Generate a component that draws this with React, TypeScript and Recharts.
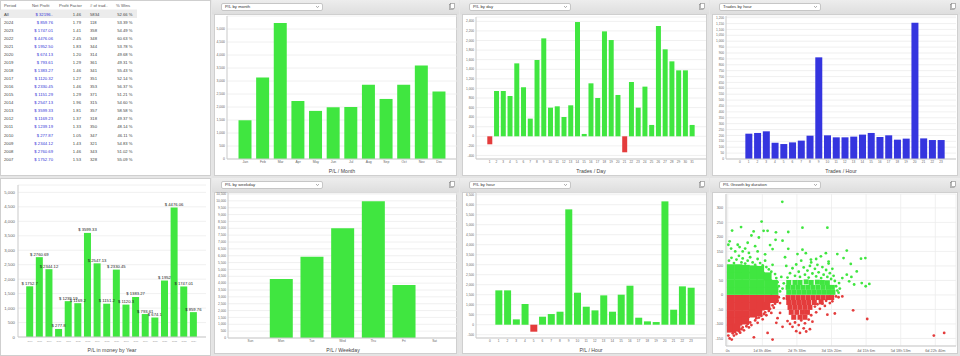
import React from 'react'
import { BarChart, Bar, XAxis, YAxis, CartesianGrid, Cell, LabelList, ScatterChart, Scatter } from 'recharts'

const GREEN = '#40e640'
const RED = '#e43c3c'
const BLUE = '#3535df'
const GRID = '#ececec'
const AXIS = '#c9c9c9'
const TICK = '#666'
const FONT = "'Liberation Sans', Arial, sans-serif"

// summary table
const periods = ['All', '2024', '2023', '2022', '2021', '2020', '2019', '2018', '2017', '2016', '2015', '2014', '2013', '2012', '2011', '2010', '2009', '2008', '2007']
const netProfit = ['$ 32196..', '$ 859.76', '$ 1747.01', '$ 4476.06', '$ 1952.50', '$ 674.13', '$ 793.61', '$ 1383.27', '$ 1120.32', '$ 2330.45', '$ 1151.29', '$ 2547.13', '$ 3599.33', '$ 1169.23', '$ 1239.19', '$ 277.87', '$ 2344.12', '$ 2760.69', '$ 1752.70']
const profitFactor = ['1.46', '1.79', '1.41', '2.45', '1.83', '1.20', '1.29', '1.46', '1.27', '1.46', '1.29', '1.96', '1.81', '1.37', '1.33', '1.05', '1.43', '1.46', '1.53']
const tradeCount = ['5834', '118', '358', '348', '344', '314', '361', '341', '351', '353', '371', '315', '357', '318', '350', '347', '321', '343', '328']
const winRate = ['52.66 %', '53.39 %', '54.49 %', '60.63 %', '53.78 %', '49.68 %', '49.31 %', '55.43 %', '52.14 %', '56.37 %', '51.21 %', '54.60 %', '58.58 %', '49.37 %', '48.14 %', '46.11 %', '54.83 %', '51.02 %', '55.09 %']

// P/L by month
const months = ['Jan', 'Feb', 'Mar', 'Apr', 'May', 'Jun', 'Jul', 'Aug', 'Sep', 'Oct', 'Nov', 'Dec']
const monthPL = [1490, 3130, 5230, 2230, 1850, 1990, 2000, 2860, 2310, 2860, 3600, 2600]
const monthTicks = [0, 500, 1000, 1500, 2000, 2500, 3000, 3500, 4000, 4500, 5000]

// P/L by day of month
const days = ['1', '2', '3', '4', '5', '6', '7', '8', '9', '10', '11', '12', '13', '14', '15', '16', '17', '18', '19', '20', '21', '22', '23', '24', '25', '26', '27', '28', '29', '30', '31']
const dayPL = [-167, 946, 946, 842, 1523, 1023, 369, 1593, 2045, 598, 626, 403, 647, 2386, 49, 1106, 800, 2191, 2010, 863, -334, 1134, 598, 1037, 237, 2303, 1816, 1565, 1377, 1377, 237]
const dayTicks = [-400, -200, 0, 200, 400, 600, 800, 1000, 1200, 1400, 1600, 1800, 2000, 2200, 2400]

// trades and P/L by hour
const hours = ['0', '1', '2', '3', '4', '5', '6', '7', '8', '9', '10', '11', '12', '13', '14', '15', '16', '17', '18', '19', '20', '21', '22', '23']
const hourTrades = [0, 215, 221, 235, 139, 127, 141, 156, 198, 863, 201, 184, 184, 190, 207, 221, 187, 201, 164, 173, 1157, 175, 161, 161]
const tradeTicks = [0, 50, 100, 150, 200, 250, 300, 350, 400, 450, 500, 550, 600, 650, 700, 750, 800, 850, 900, 950, 1000, 1050, 1100, 1150, 1200]
const hourPL = [0, 1717, 1717, 267, 1033, -350, 400, 533, 650, 5767, 1600, 900, 717, 1467, 650, 1500, 1950, 350, 167, 133, 6167, 750, 1917, 1850]
const hourTicks = [-500, 0, 500, 1000, 1500, 2000, 2500, 3000, 3500, 4000, 4500, 5000, 5500, 6000, 6500]

// P/L by weekday
const weekdays = ['Sun', 'Mon', 'Tue', 'Wed', 'Thu', 'Fri', 'Sat']
const weekdayPL = [0, 4300, 5930, 8000, 9970, 3870, 0]
const weekdayTicks = [0, 500, 1000, 1500, 2000, 2500, 3000, 3500, 4000, 4500, 5000, 5500, 6000, 6500, 7000, 7500, 8000, 8500, 9000, 9500, 10000, 10500]

// P/L by year
const years = ['2007', '2008', '2009', '2010', '2011', '2012', '2013', '2014', '2015', '2016', '2017', '2018', '2019', '2020', '2021', '2022', '2023', '2024']
const yearPL = [1752.70, 2760.69, 2344.12, 277.87, 1239.19, 1169.23, 3599.33, 2547.13, 1151.29, 2330.45, 1120.32, 1383.27, 793.61, 674.13, 1952.50, 4476.06, 1747.01, 859.76]
const yearLabels = ['$ 1752.7', '$ 2760.69', '$ 2344.12', '$ 277.8', '$ 1239.19', '$ 1169.2', '$ 3599.33', '$ 2547.13', '$ 1151.2', '$ 2330.45', '$ 1120.3', '$ 1383.27', '$ 793.61', '$ 674.1', '$ 1952', '$ 4476.06', '$ 1747.01', '$ 859.76']
const yearTicks = [0, 500, 1000, 1500, 2000, 2500, 3000, 3500, 4000, 4500, 5000]

// P/L growth by trade duration: [hours, P/L]
const durTicksSec = [0, 100000, 200000, 300000, 400000, 500000, 600000]
const durLabels = ['0s', '1d 3h 46m', '2d 7h 33m', '3d 11h 20m', '4d 15h 6m', '5d 18h 53m', '6d 22h 40m']
const growthTicks = [-150, -100, -50, 0, 50, 100, 150, 200, 250, 300]

const winCore = [
  [2.5, 14], [8.5, 14], [14.5, 14], [20.5, 14], [26.5, 14], [32.5, 14], [37.5, 14],
  [2.5, 40], [8.5, 40], [14.5, 40], [20.5, 40], [26.5, 40], [32.5, 40], [37, 38],
  [2.5, 66], [8.5, 66], [14.5, 66], [20.5, 66], [26.5, 66], [32, 64],
  [2.5, 92], [8.5, 92], [14.5, 90], [20.5, 88], [26, 86],
]
const winMid = [
  [49, 9], [53, 9], [57, 9], [61, 9], [65, 9], [69, 9], [73, 9], [77, 9], [81, 9], [84.5, 9],
  [48.5, 26], [52.5, 26], [56.5, 26], [60.5, 26], [64.5, 26], [68.5, 26], [72.5, 26], [76.5, 26], [80.5, 26], [84, 26],
  [49, 43], [54, 43], [58, 43], [63, 45], [67, 43], [72, 44], [76, 43], [80, 42],
]
const winDots = [
  [1, 118], [3, 128], [5, 110], [7, 122], [9, 135], [11, 112], [12, 126], [14, 108], [16, 118], [18, 130], [20, 112], [22, 104],
  [24, 124], [26, 110], [28, 102], [30, 118], [31, 96], [33, 88], [35, 80], [36, 104], [38, 72], [39, 58], [40, 44], [41, 30],
  [42, 12], [43, 62], [44, 22], [45, 40],
  [0.5, 173], [1.5, 185], [2.7, 160], [3.5, 222], [6, 150], [8, 173], [9.5, 165], [10.7, 234], [12, 150], [14, 160], [16, 180],
  [17, 145], [19, 205], [20.8, 219], [22, 168], [24, 150], [25, 198], [27.2, 253], [28.8, 221], [30, 140], [32, 221], [34, 172],
  [36, 158], [38.7, 216], [38.4, 190], [43.8, 321], [44, 187], [48.6, 217], [48.6, 159], [46, 130], [47, 100],
  [48, 60], [50, 75], [52, 92], [54, 66], [55, 105], [57, 80], [58, 62], [59, 118], [61, 95], [62, 70], [64, 84], [65, 60],
  [66, 100], [67, 112], [68, 74], [70, 90], [71, 64], [72, 104], [73, 78], [75, 58], [76, 96], [77, 70], [79, 86], [80, 62],
  [81, 108], [82, 75], [83, 55], [84, 90], [85, 66], [86, 48], [87, 30], [88, 15], [89, 8], [90, 22],
  [56, 141], [60, 156], [60, 232], [62.7, 144], [66.8, 122], [71, 124], [74.8, 133], [78.8, 144], [80, 232], [81, 115],
  [88, 141], [95.6, 153], [93, 127], [98.8, 107], [107, 125], [110.5, 127], [103.6, 81], [113.7, 38], [110.8, 30],
  [107.6, 41], [101.5, 36], [97.5, 47], [95.6, 70], [92, 58], [89.4, 41], [99.3, 62],
]
const lossCore = [
  [2.5, -14], [8.5, -14], [14.5, -14], [20.5, -14], [26.5, -14], [32.5, -14], [37.5, -14],
  [2.5, -40], [8.5, -40], [14.5, -40], [20.5, -40], [26.5, -40], [31, -38],
  [2.5, -66], [8.5, -66], [14.5, -66], [20.5, -64], [24.5, -60],
  [2.5, -92], [8.5, -92], [14, -88],
  [2.5, -116], [7, -112],
]
const lossMid = [
  [48.5, -9], [52.5, -9], [56.5, -9], [60.5, -9], [64.5, -9], [68.5, -9], [72.5, -9], [76.5, -9], [80.5, -9], [83.5, -9],
  [49, -26], [53, -26], [57, -26], [61, -26], [65, -26], [69.5, -26], [75, -24],
  [50, -43], [54, -43], [58, -43], [62, -43], [66, -43],
  [51, -60], [55.5, -60], [60, -60], [64, -60],
  [53, -77], [58, -77], [62, -77],
]
const lossDots = [
  [0.5, -140], [1.5, -150], [3.2, -154], [4, -132], [5, -140], [6, -128], [7, -135], [9, -125], [10, -130], [11, -118],
  [12, -112], [13, -122], [15, -108], [16, -100], [17, -112], [18, -95], [19, -104], [21, -146], [22, -88], [23, -80],
  [24, -96], [25, -78], [27, -72], [28, -84], [29, -66], [30, -60], [31, -70], [32, -131], [33, -55], [34, -48], [35, -62],
  [36, -154], [36, -36], [37, -44], [38, -30], [39, -96], [40, -20], [40, -80], [41, -8], [42, -62], [44, -110], [42, -28], [45, -12],
  [48, -90], [50, -100], [52, -110], [54, -95], [55, -125], [57, -104], [58, -131], [59, -88], [61, -115], [62, -98],
  [63, -126], [65, -85], [66, -118], [67, -70], [68, -92], [70, -40], [71, -60], [72, -32], [74, -48], [76, -30], [78, -38],
  [79, -20], [80, -68], [82, -28], [84, -22], [86, -64], [87, -5], [89, -8], [92, -5], [100.7, -53], [112, -83],
  [165.5, -140], [173.8, -131],
]

const fmt = (v: number) => v.toLocaleString('en-US')
const pts = (arr: number[][]) => arr.map(([x, y]) => ({ x, y }))

function Panel({ x, y, w, h, title }: { x: number; y: number; w: number; h: number; title: string }) {
  return (
    <div style={{ position: 'absolute', left: x, top: y, width: w, height: h, background: 'linear-gradient(#ededed, #dedede 14px, #e4e4e4 15px)' }}>
      <div style={{ position: 'absolute', left: 9, top: 3, width: 97, height: 6, background: '#fff', border: '1px solid #c6c6c6', borderRadius: 2, fontSize: 4.3, lineHeight: '6px', color: '#333', paddingLeft: 3, boxSizing: 'content-box' }}>
        {title}
        <svg style={{ position: 'absolute', right: 3, top: 2 }} width={3} height={2}>
          <polyline points="0,0 1.5,1.6 3,0" fill="none" stroke="#777" strokeWidth={0.6} />
        </svg>
      </div>
      <svg style={{ position: 'absolute', right: 4, top: 3 }} width={6} height={7}>
        <rect x={0.5} y={1.5} width={4} height={5} fill="#fff" stroke="#888" strokeWidth={0.6} />
        <rect x={1.5} y={0.5} width={4} height={5} fill="#fff" stroke="#888" strokeWidth={0.6} />
      </svg>
      <div style={{ position: 'absolute', left: 2, top: 14, right: 2, bottom: 2, background: '#fff', border: '1px solid #cfcfcf', boxSizing: 'border-box' }} />
    </div>
  )
}

function AxisTitle({ x, y, text }: { x: number; y: number; text: string }) {
  return (
    <div style={{ position: 'absolute', left: x, top: y, transform: 'translate(-50%, -50%)', fontSize: 5.2, color: '#444', whiteSpace: 'nowrap' }}>{text}</div>
  )
}

type BarBoxProps = {
  left: number; top: number; width: number; height: number; yWidth: number
  margin: { top: number; right: number; bottom: number; left: number }
  cats: string[]; values: number[]; domain: [number, number]; ticks: number[]
  barSize: number; pad: [number, number]; xHeight: number; color: string; fs: number
}

function BarBox(p: BarBoxProps) {
  const data = p.cats.map((c, i) => ({ c, v: p.values[i] }))
  return (
    <div style={{ position: 'absolute', left: p.left, top: p.top }}>
      <BarChart width={p.width} height={p.height} data={data} margin={p.margin}>
        <CartesianGrid vertical={false} stroke={GRID} strokeWidth={0.8} />
        <XAxis dataKey="c" interval={0} tickLine={false} tickSize={1} tickMargin={1} height={p.xHeight}
          axisLine={{ stroke: AXIS }} padding={{ left: p.pad[0], right: p.pad[1] }}
          tick={{ fontSize: p.fs, fill: TICK, fontFamily: FONT }} />
        <YAxis width={p.yWidth} domain={p.domain} ticks={p.ticks} interval={0} allowDataOverflow
          tickLine={false} tickSize={1} tickMargin={1} axisLine={{ stroke: AXIS }} tickFormatter={fmt}
          tick={{ fontSize: p.fs, fill: TICK, fontFamily: FONT }} />
        <Bar dataKey="v" barSize={p.barSize} isAnimationActive={false}>
          {data.map((d, i) => <Cell key={i} fill={d.v < 0 ? RED : p.color} />)}
        </Bar>
      </BarChart>
    </div>
  )
}

const square = (s: number, color: string) => (props: any) =>
  <rect x={props.cx - s / 2} y={props.cy - s / 2} width={s} height={s} fill={color} />
const dot = (color: string) => (props: any) => <circle cx={props.cx} cy={props.cy} r={1.4} fill={color} />

function SummaryTable() {
  const rowY = (i: number) => 14 + 8.07 * i
  return (
    <div style={{ position: 'absolute', left: 0, top: 0, width: 211, height: 176, background: '#fff', border: '1px solid #cfcfcf', boxSizing: 'border-box' }}>
      <svg width={211} height={176} style={{ position: 'absolute', left: -1, top: -1, fontFamily: FONT }}>
        <line x1={0} x2={137} y1={10} y2={10} stroke="#ddd" strokeWidth={0.6} />
        <rect x={0} y={10} width={137} height={8} fill="#ececec" />
        {['Period', 'Net Profit', 'Profit Factor', '# of trad..', '% Wins'].map((t, i) => (
          <text key={t} x={[4, 32, 59, 90, 116][i]} y={5.8} fontSize={4.2} fill="#555" dominantBaseline="central">{t}</text>
        ))}
        {periods.map((p, i) => (
          <g key={p} fontSize={4.2} fill="#444">
            <text x={4} y={rowY(i)} dominantBaseline="central">{p}</text>
            <text x={53} y={rowY(i)} textAnchor="end" fill="#3333d6" dominantBaseline="central">{netProfit[i]}</text>
            <text x={81} y={rowY(i)} textAnchor="end" dominantBaseline="central">{profitFactor[i]}</text>
            <text x={90} y={rowY(i)} dominantBaseline="central">{tradeCount[i]}</text>
            <text x={132.5} y={rowY(i)} textAnchor="end" dominantBaseline="central">{winRate[i]}</text>
          </g>
        ))}
      </svg>
    </div>
  )
}

const yearLabel = (props: any) => {
  const { x, y, width, value } = props
  return (
    <text x={Number(x) + Number(width) / 2} y={Number(y) - 3} textAnchor="middle" dominantBaseline="central"
      fontSize={4.2} fill="#222" fontFamily={FONT}>{value}</text>
  )
}

function YearChart() {
  const data = years.map((c, i) => ({ c, v: yearPL[i], label: yearLabels[i] }))
  return (
    <div style={{ position: 'absolute', left: 0, top: 178, width: 211, height: 178, background: '#fff', border: '1px solid #cfcfcf', boxSizing: 'border-box' }}>
      <div style={{ position: 'absolute', left: -1, top: -1 }}>
        <BarChart width={211} height={178} data={data} margin={{ top: 7, right: 5, bottom: 0, left: 0 }}>
          <CartesianGrid vertical={false} stroke={GRID} strokeWidth={0.8} />
          <XAxis dataKey="c" interval={0} tickLine={false} tickSize={1} tickMargin={2} height={19}
            axisLine={{ stroke: AXIS }} padding={{ left: 7.2, right: 7.5 }}
            tick={{ fontSize: 2.2, fill: '#999', fontFamily: FONT }} />
          <YAxis width={18} domain={[0, 5256]} ticks={yearTicks} interval={0} allowDataOverflow
            tickLine={false} tickSize={1} tickMargin={2} axisLine={{ stroke: AXIS }} tickFormatter={fmt}
            tick={{ fontSize: 4.3, fill: TICK, fontFamily: FONT }} />
          <Bar dataKey="v" barSize={7} fill={GREEN} isAnimationActive={false}>
            <LabelList dataKey="label" content={yearLabel} />
          </Bar>
        </BarChart>
      </div>
    </div>
  )
}

function GrowthChart() {
  const ticks = durTicksSec.map((s) => s / 3600)
  const label = (v: number) => durLabels[ticks.findIndex((t) => Math.abs(t - v) < 0.01)] ?? ''
  return (
    <div style={{ position: 'absolute', left: 710, top: 192 }}>
      <ScatterChart width={250} height={164} margin={{ top: 2, right: 4, bottom: 0, left: 0 }}>
        <CartesianGrid stroke={GRID} strokeWidth={0.8} />
        <XAxis type="number" dataKey="x" domain={[-1.4, 183.3]} ticks={ticks} interval={0} allowDataOverflow
          tickFormatter={label} tickLine={false} tickSize={1} tickMargin={2} height={10}
          axisLine={{ stroke: AXIS }} tick={{ fontSize: 3.8, fill: TICK, fontFamily: FONT }} />
        <YAxis type="number" dataKey="y" domain={[-176, 348]} ticks={growthTicks} interval={0} allowDataOverflow
          width={16} tickLine={false} tickSize={1} tickMargin={2} axisLine={{ stroke: AXIS }}
          tick={{ fontSize: 3.8, fill: TICK, fontFamily: FONT }} />
        <Scatter data={pts(winCore)} shape={square(8, GREEN)} isAnimationActive={false} />
        <Scatter data={pts(winMid)} shape={square(5, GREEN)} isAnimationActive={false} />
        <Scatter data={pts(winDots)} shape={dot(GREEN)} isAnimationActive={false} />
        <Scatter data={pts(lossCore)} shape={square(8, RED)} isAnimationActive={false} />
        <Scatter data={pts(lossMid)} shape={square(5, RED)} isAnimationActive={false} />
        <Scatter data={pts(lossDots)} shape={dot(RED)} isAnimationActive={false} />
      </ScatterChart>
    </div>
  )
}

export default function App() {
  return (
    <div style={{ position: 'relative', width: 960, height: 356, background: '#e6e6e6', fontFamily: FONT, overflow: 'hidden' }}>
      <style>{'body{margin:0}'}</style>
      <SummaryTable />
      <YearChart />
      <AxisTitle x={112} y={350} text="P/L in money by Year" />

      <Panel x={212} y={0} w={247} h={178} title="P/L by month" />
      <Panel x={460} y={0} w={249} h={178} title="P/L by day" />
      <Panel x={710} y={0} w={250} h={178} title="Trades by hour" />
      <Panel x={212} y={178} w={247} h={178} title="P/L by weekday" />
      <Panel x={460} y={178} w={249} h={178} title="P/L by hour" />
      <Panel x={710} y={178} w={250} h={178} title="P/L Growth by duration" />

      <BarBox left={212} top={14} width={247} height={164} yWidth={15} margin={{ top: 2, right: 2, bottom: 0, left: 0 }}
        cats={months} values={monthPL} domain={[0, 5500]} ticks={monthTicks} barSize={13} pad={[9.5, 8.9]}
        xHeight={19} color={GREEN} fs={3.4} />
      <AxisTitle x={342} y={171} text="P/L / Month" />

      <BarBox left={460} top={14} width={249} height={164} yWidth={16} margin={{ top: 3, right: 3, bottom: 0, left: 0 }}
        cats={days} values={dayPL} domain={[-474, 2491]} ticks={dayTicks} barSize={5} pad={[10.3, 10.6]}
        xHeight={19} color={GREEN} fs={3.2} />
      <AxisTitle x={591} y={171} text="Trades / Day" />

      <BarBox left={710} top={14} width={250} height={164} yWidth={16} margin={{ top: 2, right: 4, bottom: 0, left: 0 }}
        cats={hours} values={hourTrades} domain={[0, 1214]} ticks={tradeTicks} barSize={7} pad={[9.6, 10.6]}
        xHeight={19} color={BLUE} fs={3.2} />
      <AxisTitle x={841} y={171} text="Trades / Hour" />

      <BarBox left={212} top={192} width={247} height={164} yWidth={16} margin={{ top: 1, right: 2, bottom: 0, left: 0 }}
        cats={weekdays} values={weekdayPL} domain={[0, 10573]} ticks={weekdayTicks} barSize={23} pad={[7.1, 7.1]}
        xHeight={18} color={GREEN} fs={3.2} />
      <AxisTitle x={343} y={350} text="P/L / Weekday" />

      <BarBox left={460} top={192} width={249} height={164} yWidth={16} margin={{ top: 1, right: 3, bottom: 0, left: 0 }}
        cats={hours} values={hourPL} domain={[-665, 6585]} ticks={hourTicks} barSize={7} pad={[9.6, 10.6]}
        xHeight={18} color={GREEN} fs={3.2} />
      <AxisTitle x={591} y={350} text="P/L / Hour" />

      <GrowthChart />
    </div>
  )
}
